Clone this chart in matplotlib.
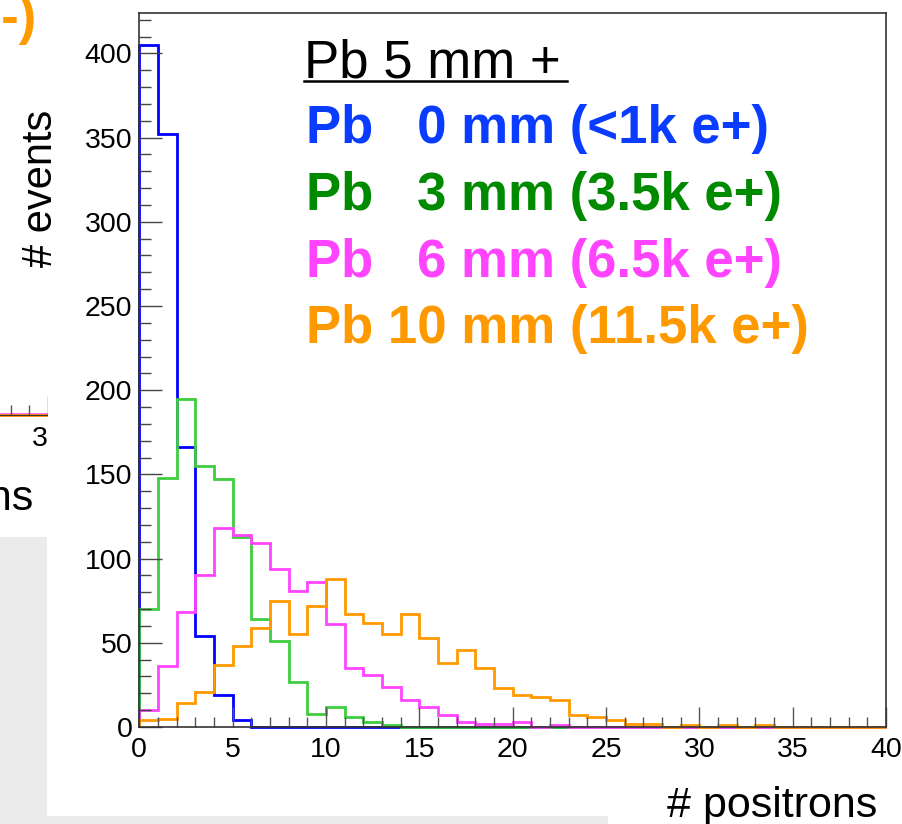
import matplotlib
matplotlib.use('Agg')
import matplotlib.pyplot as plt
import numpy as np
from matplotlib.patches import Rectangle
from matplotlib.lines import Line2D

plt.rcParams['font.family'] = ['Liberation Sans', 'DejaVu Sans']

# ---------------- data ----------------
edges = list(range(0, 41))
pb0 = [405, 352, 166, 54, 19, 4, 0, 0, 0, 0, 0, 0, 0, 0, 0, 0, 0, 0, 0, 0,
       0, 0, 0, 0, 0, 0, 0, 0, 0, 0, 0, 0, 0, 0, 0, 0, 0, 0, 0, 0]
pb3 = [70, 148, 195, 155, 147, 113, 64, 51, 27, 8, 12, 6, 3, 1, 0, 0, 0, 0, 0, 0,
       0, 0, 0, 0, 0, 0, 0, 0, 0, 0, 0, 0, 0, 0, 0, 0, 0, 0, 0, 0]
pb6 = [10, 36, 68, 90, 118, 114, 109, 94, 81, 86, 61, 35, 31, 24, 16, 12, 7, 3, 2, 2,
       3, 0, 1, 0, 0, 0, 0, 0, 0, 0, 0, 0, 0, 0, 0, 0, 0, 0, 0, 0]
pb10 = [4, 5, 14, 21, 37, 48, 59, 75, 55, 72, 88, 67, 62, 55, 67, 53, 38, 46, 35, 23,
        19, 18, 16, 7, 6, 4, 2, 2, 0, 1, 0, 1, 0, 1, 0, 0, 0, 0, 0, 0]

x_ticks = [0, 5, 10, 15, 20, 25, 30, 35, 40]
y_ticks = [0, 50, 100, 150, 200, 250, 300, 350, 400]

legend_title = 'Pb 5 mm +'
legend_lines = ['Pb   0 mm (<1k e+)', 'Pb   3 mm (3.5k e+)',
                'Pb   6 mm (6.5k e+)', 'Pb 10 mm (11.5k e+)']

# visible tail of the neighbouring (cropped) panel
nb_edges = [32, 33, 34, 35]
nb_orange = [0, 0, 0]
nb_magenta = [0, 0, 0]
nb_ticks = [35]

line_colors = ['#0000ff', '#3fcc3f', '#ff44ff', '#ff9900']
text_colors = ['#0a3cff', '#008a00', '#ff44ff', '#ff9900']

# ---------------- layout helpers ----------------
W, H = 903, 824
fig = plt.figure(figsize=(W / 100, H / 100), dpi=100)
fig.patch.set_facecolor('white')


def fx(px):
    return px / W


def fy(py):
    return 1 - py / H


# gray canvas regions
fig.patches.append(Rectangle((0, fy(824)), fx(47), (824 - 537) / H,
                             transform=fig.transFigure, facecolor='#ebebeb',
                             edgecolor='none', zorder=0.2))
fig.patches.append(Rectangle((fx(47), fy(824)), fx(608 - 47), (824 - 816) / H,
                             transform=fig.transFigure, facecolor='#ebebeb',
                             edgecolor='none', zorder=0.2))

# neighbouring panel (mostly hidden)
ppu = 18.67
nax = fig.add_axes([fx(48 - 35 * ppu), fy(415), 35 * ppu / W, 415 / H], zorder=0.1)
nax.patch.set_alpha(0)
nax.set_xlim(0, 35)
nax.set_ylim(0, 400)
nax.stairs(nb_magenta, nb_edges, color='#ff44ff', lw=2.6, clip_on=False)
nax.stairs(nb_orange, nb_edges, color='#ff9900', lw=2, clip_on=False)
for s in ['top', 'left', 'right']:
    nax.spines[s].set_visible(False)
nax.spines['bottom'].set_color('#333333')
nax.set_yticks([])
nax.set_xticks(nb_ticks)
nax.set_xticks(nb_edges, minor=True)
nax.tick_params(axis='x', which='major', direction='in', length=14, width=1,
                color='#555555', labelsize=20.5, pad=8)
nax.tick_params(axis='x', which='minor', direction='in', length=7.5, width=1,
                color='#555555')

# white pad of the main panel
fig.patches.append(Rectangle((fx(48), fy(816)), 1 - fx(48), 816 / H,
                             transform=fig.transFigure, facecolor='white',
                             edgecolor='none', zorder=0.5))

# ---------------- main panel ----------------
ax = fig.add_axes([fx(139.3), fy(727), (886 - 139.3) / W, (727 - 13) / H], zorder=1)
ax.set_xlim(0, 40)
ax.set_ylim(0, 424)
for vals, c in zip([pb0, pb3, pb6, pb10], line_colors):
    ax.stairs(vals, edges, color=c, lw=2, clip_on=False)

ax.set_xticks(x_ticks)
ax.set_xticks(range(0, 41), minor=True)
ax.set_yticks(y_ticks)
ax.set_yticks(range(0, 421, 10), minor=True)
ax.tick_params(axis='x', which='major', direction='in', length=14.5, width=1,
               color='#555555', labelsize=20.5, pad=7)
ax.tick_params(axis='x', which='minor', direction='in', length=7.5, width=1,
               color='#555555')
ax.tick_params(axis='y', which='major', direction='in', length=16.5, width=1,
               color='#444444', labelsize=20.5, pad=5)
ax.tick_params(axis='y', which='minor', direction='in', length=8.5, width=1,
               color='#444444')
for s in ax.spines.values():
    s.set_color('#333333')
    s.set_linewidth(1.2)

# axis titles
fig.text(fx(877), fy(817), '# positrons', fontsize=31, ha='right', va='baseline')
fig.text(fx(52), fy(110), '# events', fontsize=30, rotation=90,
         rotation_mode='anchor', ha='right', va='baseline')

# legend text
fig.text(fx(304), fy(77), legend_title, fontsize=38, color='black',
         ha='left', va='baseline')
fig.add_artist(Line2D([fx(304), fx(567)], [fy(81), fy(81)],
                      transform=fig.transFigure, color='black', lw=1.8))
baselines = [143, 210, 277, 343]
for txt, c, b in zip(legend_lines, text_colors, baselines):
    fig.text(fx(306), fy(b), txt, fontsize=38, fontweight='bold', color=c,
             ha='left', va='baseline')

# neighbour panel texts that peek in from the left
fig.text(fx(36), fy(34), 'e-)', fontsize=38, fontweight='bold',
         color='#ff9900', ha='right', va='baseline')
fig.text(fx(33), fy(510), '# positrons', fontsize=31, ha='right', va='baseline')

fig.savefig('out.png', dpi=100)
